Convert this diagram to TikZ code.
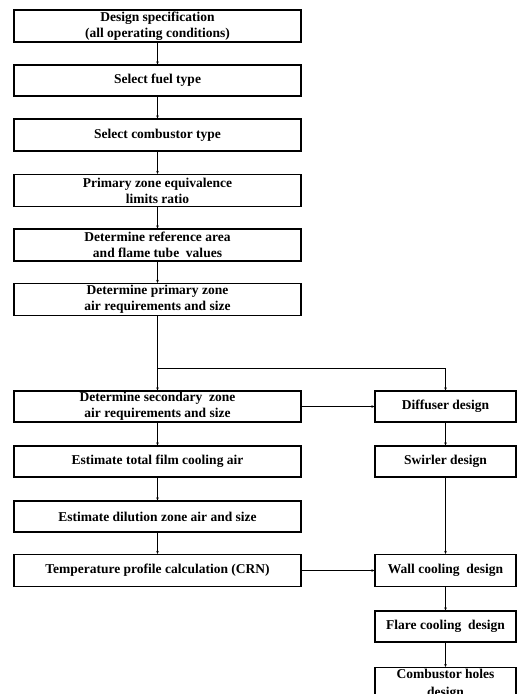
\documentclass[tikz,border=0pt]{standalone}
\usepackage{fontspec}
\setmainfont{Liberation Serif}
\usetikzlibrary{arrows.meta}
\begin{document}
\begin{tikzpicture}[x=1pt,y=-1pt,
  box/.style={draw,line width=1.1pt,rectangle,inner sep=0pt,align=center,
    font=\bfseries\fontsize{13.5}{16}\selectfont},
  lbox/.style={box,minimum width=287pt},
  rbox/.style={box,minimum width=141pt},
  conn/.style={line width=0.8pt,-{Stealth[length=3pt,width=2.6pt]}}]
\useasboundingbox (0,0) rectangle (518,694);
\clip (0,0) rectangle (518,694);
\node[lbox,minimum height=32pt] (b1) at (157.5,26) {Design specification\\(all operating conditions)};
\node[lbox,minimum height=31pt] (b2) at (157.5,80.5) {Select fuel type};
\node[lbox,minimum height=32pt] (b3) at (157.5,135) {Select combustor type};
\node[lbox,minimum height=32pt] (b4) at (157.5,190.5) {Primary zone equivalence\\limits ratio};
\node[lbox,minimum height=32pt] (b5) at (157.5,245) {Determine reference area\\and flame tube\ \ values};
\node[lbox,minimum height=32pt] (b6) at (157.5,299.5) {Determine primary zone\\air requirements and size};
\node[lbox,minimum height=31pt] (b7) at (157.5,406.5) {Determine secondary\ \ zone\\air requirements and size};
\node[lbox,minimum height=31pt] (b8) at (157.5,461.5) {Estimate total film cooling air};
\node[lbox,minimum height=31pt] (b9) at (157.5,516.5) {Estimate dilution zone air and size};
\node[lbox,minimum height=32pt] (b10) at (157.5,570.5) {Temperature profile calculation (CRN)};
\node[rbox,minimum height=31pt] (r1) at (445.5,406.5) {Diffuser design};
\node[rbox,minimum height=31pt] (r2) at (445.5,461.5) {Swirler design};
\node[rbox,minimum height=32pt] (r3) at (445.5,570.5) {Wall cooling\ \ design};
\node[rbox,minimum height=31pt] (r4) at (445.5,626.5) {Flare cooling\ \ design};
\node[rbox,inner ysep=1.5pt,anchor=north,font=\bfseries\fontsize{13.5}{18}\selectfont] (r5) at (445.5,667) {Combustor holes\\design};
\coordinate (br) at (157.5,368);
\draw[conn] (b1) -- (b2);
\draw[conn] (b2) -- (b3);
\draw[conn] (b3) -- (b4);
\draw[conn] (b4) -- (b5);
\draw[conn] (b5) -- (b6);
\draw[conn] (b6) -- (b7);
\draw[conn] (br) -| (r1);
\draw[conn] (b7) -- (r1);
\draw[conn] (b7) -- (b8);
\draw[conn] (b8) -- (b9);
\draw[conn] (b9) -- (b10);
\draw[conn] (b10) -- (r3);
\draw[conn] (r1) -- (r2);
\draw[conn] (r2) -- (r3);
\draw[conn] (r3) -- (r4);
\draw[conn] (r4) -- (r5);
\end{tikzpicture}
\end{document}
